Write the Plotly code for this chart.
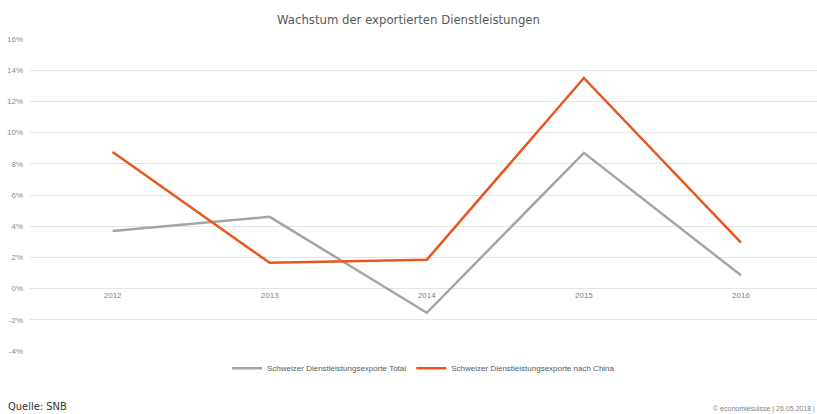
import plotly.graph_objects as go

years = ["2012", "2013", "2014", "2015", "2016"]
total = [3.7, 4.6, -1.55, 8.7, 0.85]
china = [8.75, 1.65, 1.85, 13.5, 2.95]
y_ticks = [-4, -2, 0, 2, 4, 6, 8, 10, 12, 14, 16]
y_labels = [f"{v}%" for v in y_ticks]

font_title = "DejaVu Sans Condensed, Liberation Sans Narrow, Liberation Sans, sans-serif"
font_small = "Liberation Sans, Arial, sans-serif"

fig = go.Figure()
fig.add_trace(go.Scatter(x=years, y=total, mode="lines", name="Schweizer Dienstleistungsexporte Total",
                         line=dict(color="#a5a5a5", width=2.5)))
fig.add_trace(go.Scatter(x=years, y=china, mode="lines", name="Schweizer Dienstleistungsexporte nach China",
                         line=dict(color="#e8561e", width=2.5)))

fig.update_layout(
    width=817, height=414,
    margin=dict(l=30, r=0, t=39, b=63, autoexpand=False),
    paper_bgcolor="white", plot_bgcolor="white",
    title=dict(text="Wachstum der exportierten Dienstleistungen", x=0.5, xanchor="center", y=0.952, yanchor="middle",
               font=dict(family=font_title, size=13, color="#595959")),
    xaxis=dict(type="category", range=[-0.526, 4.484], anchor="free", position=0.2,
               showgrid=False, zeroline=False, showline=False, ticks="",
               tickfont=dict(family=font_small, size=8, color="#7f7f7f")),
    yaxis=dict(range=[-4, 16], tickvals=y_ticks, ticktext=y_labels, showgrid=True,
               gridcolor="#e4e4e4", gridwidth=1, zeroline=False, showline=False, ticks="",
               ticklabelstandoff=6,
               tickfont=dict(family=font_small, size=8, color="#8c8c8c")),
    legend=dict(orientation="h", x=0.5, xanchor="center", y=-0.055, yanchor="middle",
                font=dict(family=font_small, size=8, color="#595959"),
                itemwidth=30, tracegroupgap=0),
    showlegend=True,
)

fig.add_annotation(text="Quelle: SNB", xref="paper", yref="paper", x=-0.031, y=-0.179,
                   xanchor="left", yanchor="middle", showarrow=False,
                   font=dict(family=font_title, size=11, color="#333333"))
fig.add_annotation(text="© economiesuisse | 26.05.2018 |", xref="paper", yref="paper", x=1.0, y=-0.187,
                   xanchor="right", yanchor="middle", showarrow=False,
                   font=dict(family=font_small, size=7, color="#7f7f7f"))

fig.write_html("out.html", config={"displayModeBar": False},
               post_script="document.body.style.margin='0';document.body.style.overflow='hidden';")
